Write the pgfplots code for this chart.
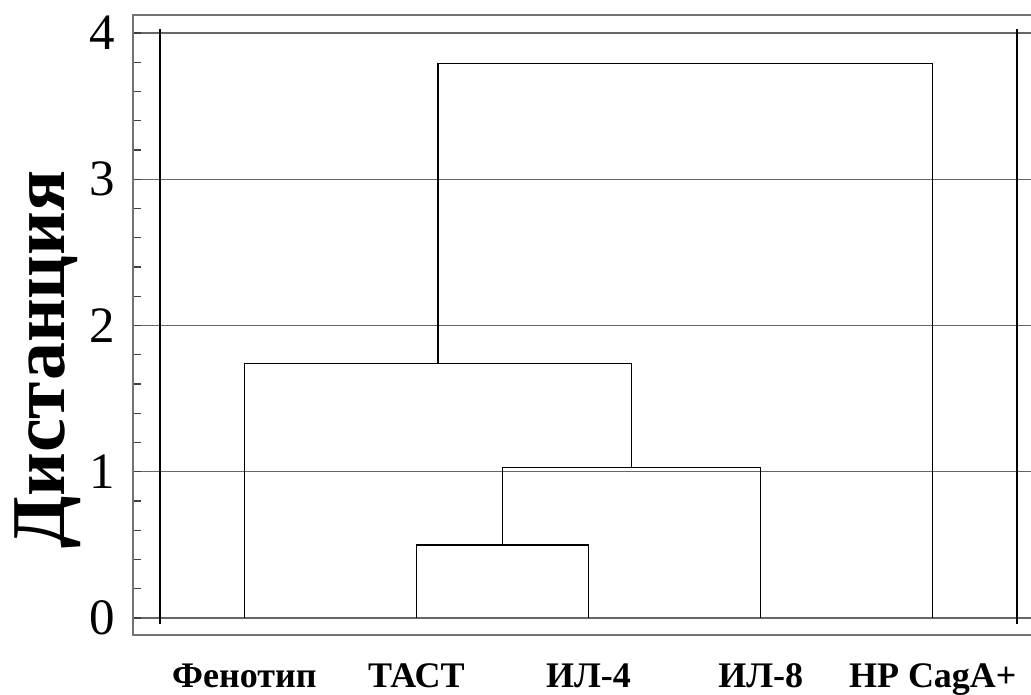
\documentclass[border=0pt]{standalone}
\usepackage{fontspec}
\setmainfont{Liberation Serif}
\usepackage{pgfplots}
\pgfplotsset{compat=1.18}
\begin{document}
\begin{tikzpicture}
\path[use as bounding box] (0,0) rectangle (1031pt,695pt);
\begin{axis}[
  at={(133pt,60pt)}, anchor=south west,
  scale only axis, width=907pt, height=620pt,
  xmin=-0.647, xmax=4.623, ymin=-0.116, ymax=4.123,
  xtick={0,1,2,3,4},
  xticklabels={Фенотип, ТАСТ, ИЛ-4, ИЛ-8, HP CagA+},
  ytick={0,1,2,3,4},
  minor y tick num=4,
  major x tick style={draw=none},
  tick align=inside,
  major tick length=8pt, minor tick length=8pt,
  every tick/.style={black!75, line width=1.3pt},
  axis line style={black!55, line width=1.5pt},
  ymajorgrids,
  major grid style={black!60, line width=1.4pt},
  /pgf/number format/assume math mode=true,
  xticklabel style={font=\fontsize{36}{40}\selectfont\bfseries, anchor=base, inner sep=0pt, yshift=-53pt},
  yticklabel style={font=\fontsize{51}{55}\selectfont, anchor=east, inner sep=0pt, xshift=-18pt},
  ylabel={Дистанция},
  ylabel style={font=\fontsize{76}{80}\selectfont\bfseries, at={(axis description cs:-0.094,0.444)}, anchor=center, rotate=0},
  clip=false,
]
\addplot[black, line width=1.3pt] coordinates {(-0.49,-0.04) (-0.49,4.03)};
\addplot[black, line width=1.3pt] coordinates {(4.49,-0.04) (4.49,4.03)};
\addplot[black, line width=1.4pt] coordinates {(1,0) (1,0.50) (2,0.50) (2,0)};
\addplot[black, line width=1.4pt] coordinates {(1.5,0.50) (1.5,1.03) (3,1.03) (3,0)};
\addplot[black, line width=1.4pt] coordinates {(0,0) (0,1.74) (2.25,1.74) (2.25,1.03)};
\addplot[black, line width=1.4pt] coordinates {(1.125,1.74) (1.125,3.79) (4,3.79) (4,0)};
\end{axis}
\end{tikzpicture}
\end{document}
